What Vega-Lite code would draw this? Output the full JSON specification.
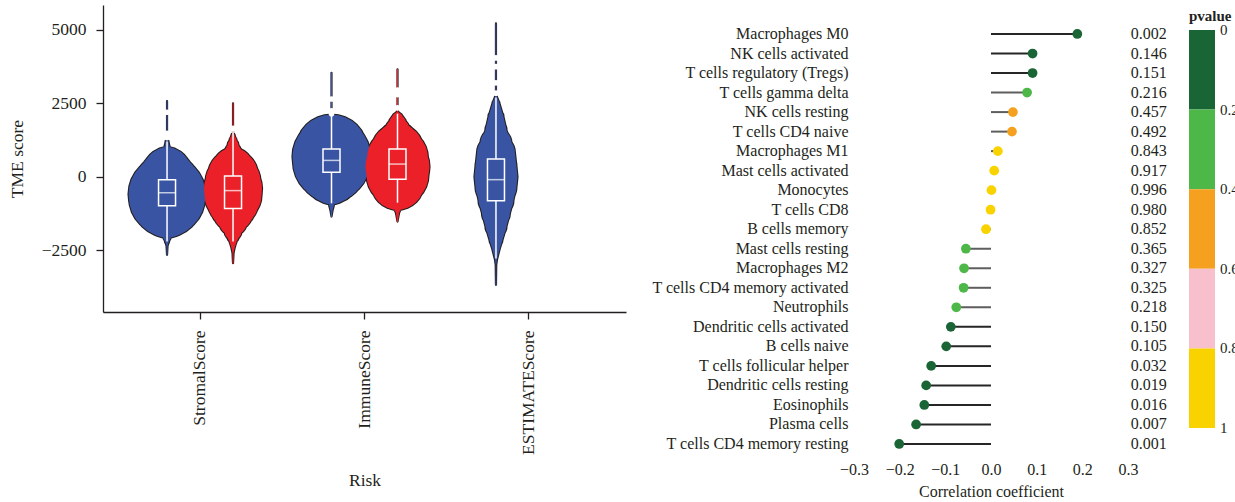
{
  "$schema": "https://vega.github.io/schema/vega-lite/v6.json",
  "background": "white",
  "padding": {"left": 8, "top": 5, "right": 0, "bottom": 0},
  "spacing": 25,
  "config": {
    "font": "Liberation Serif",
    "view": {"stroke": null},
    "axis": {"labelFont": "Liberation Serif", "titleFont": "Liberation Serif", "labelColor": "#231f20", "titleColor": "#231f20", "titleFontWeight": "normal", "grid": false, "labelLimit": 400},
    "legend": {"labelFont": "Liberation Serif", "titleFont": "Liberation Serif"}
  },
  "resolve": {"scale": {"color": "independent", "fill": "independent", "stroke": "independent", "size": "independent"}, "legend": {"fill": "independent"}},
  "datasets": {
    "violins": [
      {"score": "StromalScore", "risk": "Low", "value": 2580, "density": 0},
      {"score": "StromalScore", "risk": "Low", "value": 1300, "density": 0},
      {"score": "StromalScore", "risk": "Low", "value": 1197, "density": 0.03},
      {"score": "StromalScore", "risk": "Low", "value": 1027, "density": 0.05},
      {"score": "StromalScore", "risk": "Low", "value": 802, "density": 0.10},
      {"score": "StromalScore", "risk": "Low", "value": 650, "density": 0.17},
      {"score": "StromalScore", "risk": "Low", "value": 517, "density": 0.26},
      {"score": "StromalScore", "risk": "Low", "value": 350, "density": 0.39},
      {"score": "StromalScore", "risk": "Low", "value": 177, "density": 0.48},
      {"score": "StromalScore", "risk": "Low", "value": 7, "density": 0.54},
      {"score": "StromalScore", "risk": "Low", "value": -163, "density": 0.60},
      {"score": "StromalScore", "risk": "Low", "value": -388, "density": 0.69},
      {"score": "StromalScore", "risk": "Low", "value": -592, "density": 0.77},
      {"score": "StromalScore", "risk": "Low", "value": -700, "density": 0.76},
      {"score": "StromalScore", "risk": "Low", "value": -843, "density": 0.70},
      {"score": "StromalScore", "risk": "Low", "value": -1000, "density": 0.62},
      {"score": "StromalScore", "risk": "Low", "value": -1183, "density": 0.52},
      {"score": "StromalScore", "risk": "Low", "value": -1350, "density": 0.42},
      {"score": "StromalScore", "risk": "Low", "value": -1523, "density": 0.32},
      {"score": "StromalScore", "risk": "Low", "value": -1748, "density": 0.20},
      {"score": "StromalScore", "risk": "Low", "value": -1975, "density": 0.10},
      {"score": "StromalScore", "risk": "Low", "value": -2203, "density": 0.04},
      {"score": "StromalScore", "risk": "Low", "value": -2350, "density": 0.01},
      {"score": "StromalScore", "risk": "Low", "value": -2655, "density": 0},
      {"score": "StromalScore", "risk": "High", "value": 2502, "density": 0},
      {"score": "StromalScore", "risk": "High", "value": 1500, "density": 0},
      {"score": "StromalScore", "risk": "High", "value": 1425, "density": 0.03},
      {"score": "StromalScore", "risk": "High", "value": 1250, "density": 0.07},
      {"score": "StromalScore", "risk": "High", "value": 1085, "density": 0.11},
      {"score": "StromalScore", "risk": "High", "value": 900, "density": 0.15},
      {"score": "StromalScore", "risk": "High", "value": 745, "density": 0.20},
      {"score": "StromalScore", "risk": "High", "value": 517, "density": 0.27},
      {"score": "StromalScore", "risk": "High", "value": 292, "density": 0.41},
      {"score": "StromalScore", "risk": "High", "value": 65, "density": 0.50},
      {"score": "StromalScore", "risk": "High", "value": -163, "density": 0.55},
      {"score": "StromalScore", "risk": "High", "value": -388, "density": 0.58},
      {"score": "StromalScore", "risk": "High", "value": -615, "density": 0.57},
      {"score": "StromalScore", "risk": "High", "value": -843, "density": 0.51},
      {"score": "StromalScore", "risk": "High", "value": -1000, "density": 0.46},
      {"score": "StromalScore", "risk": "High", "value": -1183, "density": 0.40},
      {"score": "StromalScore", "risk": "High", "value": -1523, "density": 0.28},
      {"score": "StromalScore", "risk": "High", "value": -1863, "density": 0.17},
      {"score": "StromalScore", "risk": "High", "value": -2050, "density": 0.11},
      {"score": "StromalScore", "risk": "High", "value": -2203, "density": 0.07},
      {"score": "StromalScore", "risk": "High", "value": -2428, "density": 0.03},
      {"score": "StromalScore", "risk": "High", "value": -2600, "density": 0.01},
      {"score": "StromalScore", "risk": "High", "value": -2938, "density": 0},
      {"score": "ImmuneScore", "risk": "Low", "value": 3543, "density": 0},
      {"score": "ImmuneScore", "risk": "Low", "value": 2250, "density": 0},
      {"score": "ImmuneScore", "risk": "Low", "value": 2100, "density": 0.02},
      {"score": "ImmuneScore", "risk": "Low", "value": 1950, "density": 0.05},
      {"score": "ImmuneScore", "risk": "Low", "value": 1822, "density": 0.09},
      {"score": "ImmuneScore", "risk": "Low", "value": 1595, "density": 0.20},
      {"score": "ImmuneScore", "risk": "Low", "value": 1367, "density": 0.36},
      {"score": "ImmuneScore", "risk": "Low", "value": 1142, "density": 0.56},
      {"score": "ImmuneScore", "risk": "Low", "value": 915, "density": 0.71},
      {"score": "ImmuneScore", "risk": "Low", "value": 687, "density": 0.78},
      {"score": "ImmuneScore", "risk": "Low", "value": 517, "density": 0.77},
      {"score": "ImmuneScore", "risk": "Low", "value": 292, "density": 0.68},
      {"score": "ImmuneScore", "risk": "Low", "value": 65, "density": 0.57},
      {"score": "ImmuneScore", "risk": "Low", "value": -218, "density": 0.42},
      {"score": "ImmuneScore", "risk": "Low", "value": -503, "density": 0.25},
      {"score": "ImmuneScore", "risk": "Low", "value": -730, "density": 0.12},
      {"score": "ImmuneScore", "risk": "Low", "value": -950, "density": 0.05},
      {"score": "ImmuneScore", "risk": "Low", "value": -1150, "density": 0.02},
      {"score": "ImmuneScore", "risk": "Low", "value": -1353, "density": 0},
      {"score": "ImmuneScore", "risk": "High", "value": 3658, "density": 0},
      {"score": "ImmuneScore", "risk": "High", "value": 2250, "density": 0},
      {"score": "ImmuneScore", "risk": "High", "value": 2200, "density": 0.02},
      {"score": "ImmuneScore", "risk": "High", "value": 2100, "density": 0.06},
      {"score": "ImmuneScore", "risk": "High", "value": 2000, "density": 0.11},
      {"score": "ImmuneScore", "risk": "High", "value": 1822, "density": 0.17},
      {"score": "ImmuneScore", "risk": "High", "value": 1595, "density": 0.24},
      {"score": "ImmuneScore", "risk": "High", "value": 1367, "density": 0.30},
      {"score": "ImmuneScore", "risk": "High", "value": 1142, "density": 0.42},
      {"score": "ImmuneScore", "risk": "High", "value": 915, "density": 0.52},
      {"score": "ImmuneScore", "risk": "High", "value": 632, "density": 0.61},
      {"score": "ImmuneScore", "risk": "High", "value": 347, "density": 0.64},
      {"score": "ImmuneScore", "risk": "High", "value": 65, "density": 0.62},
      {"score": "ImmuneScore", "risk": "High", "value": -218, "density": 0.53},
      {"score": "ImmuneScore", "risk": "High", "value": -503, "density": 0.37},
      {"score": "ImmuneScore", "risk": "High", "value": -785, "density": 0.18},
      {"score": "ImmuneScore", "risk": "High", "value": -1013, "density": 0.09},
      {"score": "ImmuneScore", "risk": "High", "value": -1238, "density": 0.03},
      {"score": "ImmuneScore", "risk": "High", "value": -1523, "density": 0},
      {"score": "ESTIMATEScore", "risk": "Low", "value": 5222, "density": 0},
      {"score": "ESTIMATEScore", "risk": "Low", "value": 2800, "density": 0},
      {"score": "ESTIMATEScore", "risk": "Low", "value": 2727, "density": 0.02},
      {"score": "ESTIMATEScore", "risk": "Low", "value": 2502, "density": 0.07},
      {"score": "ESTIMATEScore", "risk": "Low", "value": 2047, "density": 0.15},
      {"score": "ESTIMATEScore", "risk": "Low", "value": 1595, "density": 0.21},
      {"score": "ESTIMATEScore", "risk": "Low", "value": 1142, "density": 0.31},
      {"score": "ESTIMATEScore", "risk": "Low", "value": 802, "density": 0.38},
      {"score": "ESTIMATEScore", "risk": "Low", "value": 347, "density": 0.41},
      {"score": "ESTIMATEScore", "risk": "Low", "value": 7, "density": 0.43},
      {"score": "ESTIMATEScore", "risk": "Low", "value": -333, "density": 0.41},
      {"score": "ESTIMATEScore", "risk": "Low", "value": -785, "density": 0.35},
      {"score": "ESTIMATEScore", "risk": "Low", "value": -1238, "density": 0.28},
      {"score": "ESTIMATEScore", "risk": "Low", "value": -1693, "density": 0.21},
      {"score": "ESTIMATEScore", "risk": "Low", "value": -2145, "density": 0.13},
      {"score": "ESTIMATEScore", "risk": "Low", "value": -2485, "density": 0.07},
      {"score": "ESTIMATEScore", "risk": "Low", "value": -2825, "density": 0.02},
      {"score": "ESTIMATEScore", "risk": "Low", "value": -3000, "density": 0.005},
      {"score": "ESTIMATEScore", "risk": "Low", "value": -3675, "density": 0}
    ],
    "boxes": [
      {"score": "StromalScore", "risk": "Low", "lower": -2200, "q1": -986, "median": -540, "q3": -102, "upper": 1200},
      {"score": "StromalScore", "risk": "High", "lower": -2200, "q1": -1075, "median": -468, "q3": 31, "upper": 1600},
      {"score": "ImmuneScore", "risk": "Low", "lower": -900, "q1": 160, "median": 560, "q3": 949, "upper": 2100},
      {"score": "ImmuneScore", "risk": "High", "lower": -880, "q1": -78, "median": 435, "q3": 945, "upper": 2150},
      {"score": "ESTIMATEScore", "risk": "Low", "lower": -2780, "q1": -815, "median": -95, "q3": 609, "upper": 2700}
    ],
    "outliers": [
      {"score": "StromalScore", "risk": "Low", "value": 2200},
      {"score": "StromalScore", "risk": "Low", "value": 1480},
      {"score": "StromalScore", "risk": "Low", "value": 1340},
      {"score": "StromalScore", "risk": "High", "value": 1650},
      {"score": "ImmuneScore", "risk": "Low", "value": 2650},
      {"score": "ImmuneScore", "risk": "Low", "value": 2250},
      {"score": "ImmuneScore", "risk": "Low", "value": 2150},
      {"score": "ImmuneScore", "risk": "High", "value": 2950},
      {"score": "ImmuneScore", "risk": "High", "value": 2800},
      {"score": "ImmuneScore", "risk": "High", "value": 2350},
      {"score": "ESTIMATEScore", "risk": "Low", "value": 4050},
      {"score": "ESTIMATEScore", "risk": "Low", "value": 3750},
      {"score": "ESTIMATEScore", "risk": "Low", "value": 3200},
      {"score": "ESTIMATEScore", "risk": "Low", "value": 2850}
    ],
    "immune": [
      {"cell": "Macrophages M0", "cor": 0.189, "pvalue": 0.002},
      {"cell": "NK cells activated", "cor": 0.091, "pvalue": 0.146},
      {"cell": "T cells regulatory (Tregs)", "cor": 0.091, "pvalue": 0.151},
      {"cell": "T cells gamma delta", "cor": 0.079, "pvalue": 0.216},
      {"cell": "NK cells resting", "cor": 0.048, "pvalue": 0.457},
      {"cell": "T cells CD4 naive", "cor": 0.046, "pvalue": 0.492},
      {"cell": "Macrophages M1", "cor": 0.015, "pvalue": 0.843},
      {"cell": "Mast cells activated", "cor": 0.007, "pvalue": 0.917},
      {"cell": "Monocytes", "cor": 0.001, "pvalue": 0.996},
      {"cell": "T cells CD8", "cor": -0.001, "pvalue": 0.980},
      {"cell": "B cells memory", "cor": -0.011, "pvalue": 0.852},
      {"cell": "Mast cells resting", "cor": -0.055, "pvalue": 0.365},
      {"cell": "Macrophages M2", "cor": -0.059, "pvalue": 0.327},
      {"cell": "T cells CD4 memory activated", "cor": -0.060, "pvalue": 0.325},
      {"cell": "Neutrophils", "cor": -0.076, "pvalue": 0.218},
      {"cell": "Dendritic cells activated", "cor": -0.088, "pvalue": 0.150},
      {"cell": "B cells naive", "cor": -0.098, "pvalue": 0.105},
      {"cell": "T cells follicular helper", "cor": -0.131, "pvalue": 0.032},
      {"cell": "Dendritic cells resting", "cor": -0.142, "pvalue": 0.019},
      {"cell": "Eosinophils", "cor": -0.146, "pvalue": 0.016},
      {"cell": "Plasma cells", "cor": -0.164, "pvalue": 0.007},
      {"cell": "T cells CD4 memory resting", "cor": -0.201, "pvalue": 0.001}
    ]
  },
  "hconcat": [
    {
      "width": 523,
      "height": 307,
      "resolve": {"scale": {"size": "independent"}},
      "layer": [
        {
          "data": {"name": "violins"},
          "mark": {"type": "trail", "color": "#231f20"},
          "encoding": {
            "x": {"field": "score", "type": "nominal", "sort": ["StromalScore", "ImmuneScore", "ESTIMATEScore"], "title": "Risk",
                  "scale": {"paddingInner": 0, "paddingOuter": 0.09, "round": false},
                  "axis": {"labelAngle": -90, "labelFontSize": 17.5, "titleFontSize": 17.5, "tickSize": 7, "tickColor": "#231f20", "tickWidth": 1.3, "domainColor": "#231f20", "domainWidth": 1.3, "labelPadding": 11, "titlePadding": 17}},
            "xOffset": {"field": "risk", "type": "nominal", "scale": {"domain": ["Low", "High"], "paddingInner": 0, "paddingOuter": 0.246}},
            "y": {"field": "value", "type": "quantitative", "title": "TME score",
                  "scale": {"domain": [-4600, 5850], "nice": false, "zero": false},
                  "axis": {"values": [-2500, 0, 2500, 5000], "format": "d", "labelFontSize": 17.5, "titleFontSize": 17.5, "tickSize": 7, "tickColor": "#231f20", "tickWidth": 1.3, "domainColor": "#231f20", "domainWidth": 1.3, "labelPadding": 10, "titlePadding": 15}},
            "size": {"field": "density", "type": "quantitative", "scale": {"domain": [0, 1], "range": [2.2, 102.2]}, "legend": null},
            "order": {"field": "value", "type": "quantitative"},
            "detail": [{"field": "score", "type": "nominal"}, {"field": "risk", "type": "nominal"}]
          }
        },
        {
          "data": {"name": "violins"},
          "mark": {"type": "trail"},
          "encoding": {
            "x": {"field": "score", "type": "nominal", "sort": ["StromalScore", "ImmuneScore", "ESTIMATEScore"]},
            "xOffset": {"field": "risk", "type": "nominal"},
            "y": {"field": "value", "type": "quantitative"},
            "size": {"field": "density", "type": "quantitative", "scale": {"domain": [0, 1], "range": [0, 100]}, "legend": null},
            "color": {"field": "risk", "type": "nominal", "scale": {"domain": ["Low", "High"], "range": ["#3a54a4", "#ec2028"]}, "legend": null},
            "order": {"field": "value", "type": "quantitative"},
            "detail": [{"field": "score", "type": "nominal"}, {"field": "risk", "type": "nominal"}]
          }
        },
        {
          "data": {"name": "boxes"},
          "mark": {"type": "rule", "color": "white", "strokeWidth": 1.5},
          "encoding": {
            "x": {"field": "score", "type": "nominal", "sort": ["StromalScore", "ImmuneScore", "ESTIMATEScore"]},
            "xOffset": {"field": "risk", "type": "nominal"},
            "y": {"field": "lower", "type": "quantitative"},
            "y2": {"field": "upper"}
          }
        },
        {
          "data": {"name": "boxes"},
          "mark": {"type": "bar", "width": 17, "stroke": "white", "strokeWidth": 1.5},
          "encoding": {
            "x": {"field": "score", "type": "nominal", "sort": ["StromalScore", "ImmuneScore", "ESTIMATEScore"]},
            "xOffset": {"field": "risk", "type": "nominal"},
            "y": {"field": "q1", "type": "quantitative"},
            "y2": {"field": "q3"},
            "color": {"field": "risk", "type": "nominal", "legend": null}
          }
        },
        {
          "data": {"name": "boxes"},
          "mark": {"type": "tick", "color": "white", "size": 17, "thickness": 1.5, "orient": "horizontal"},
          "encoding": {
            "x": {"field": "score", "type": "nominal", "sort": ["StromalScore", "ImmuneScore", "ESTIMATEScore"]},
            "xOffset": {"field": "risk", "type": "nominal"},
            "y": {"field": "median", "type": "quantitative"}
          }
        },
        {
          "data": {"name": "outliers"},
          "mark": {"type": "circle", "color": "white", "size": 32, "opacity": 1},
          "encoding": {
            "x": {"field": "score", "type": "nominal", "sort": ["StromalScore", "ImmuneScore", "ESTIMATEScore"]},
            "xOffset": {"field": "risk", "type": "nominal"},
            "y": {"field": "value", "type": "quantitative"}
          }
        }
      ]
    },
    {
      "width": 274,
      "height": 452,
      "data": {"name": "immune"},
      "encoding": {
        "y": {"field": "cell", "type": "nominal", "sort": null, "title": null,
              "scale": {"paddingInner": 0, "paddingOuter": 0.576, "align": 0.855, "round": false},
              "axis": {"domain": false, "ticks": false, "labelPadding": 6, "labelFontSize": 16}}
      },
      "layer": [
        {
          "mark": {"type": "rule", "strokeWidth": 2},
          "encoding": {
            "x": {"field": "cor", "type": "quantitative", "title": "Correlation coefficient",
                  "scale": {"domain": [-0.3, 0.3], "nice": false, "zero": false},
                  "axis": {"values": [-0.3, -0.2, -0.1, 0, 0.1, 0.2, 0.3], "format": ".1f", "domain": false, "ticks": false, "labelPadding": 4, "labelFlush": false, "labelOverlap": false, "labelFontSize": 16, "titleFontSize": 16, "titlePadding": 6}},
            "x2": {"datum": 0},
            "stroke": {"field": "pvalue", "type": "quantitative", "scale": {"type": "threshold", "domain": [0.2], "range": ["#262626", "#5e5e5e"]}, "legend": null}
          }
        },
        {
          "mark": {"type": "circle", "size": 95, "opacity": 1},
          "encoding": {
            "x": {"field": "cor", "type": "quantitative"},
            "fill": {"field": "pvalue", "type": "quantitative",
                     "scale": {"type": "quantize", "domain": [0, 1], "range": ["#1a6535", "#4db848", "#f5a11f", "#f8bfcc", "#f9d300"]},
                     "legend": {"type": "gradient", "orient": "none", "legendX": 335, "legendY": 4, "padding": 0, "direction": "vertical", "values": [0, 0.2, 0.4, 0.6, 0.8, 1], "labelExpr": "format(datum.value, '.1~f')", "labelOverlap": false, "gradientLength": 398, "gradientThickness": 26, "gradientStrokeWidth": 0, "title": "pvalue", "titleFontWeight": "bold", "titleFontSize": 15, "titleColor": "#231f20", "titlePadding": 6, "labelFontSize": 15, "labelColor": "#231f20", "labelOffset": 5,
                                "encoding": {
                                  "gradient": {"y": {"value": {"expr": "datum.perc * 398"}}, "y2": {"value": {"expr": "datum.perc2 * 398"}}},
                                  "labels": {"y": {"value": {"expr": "datum.perc * 398"}}, "baseline": {"value": "middle"}, "opacity": {"value": 1}}
                                }}}
          }
        },
        {
          "mark": {"type": "text", "align": "right", "baseline": "middle", "fontSize": 16, "color": "#231f20"},
          "encoding": {
            "x": {"datum": 0.385},
            "text": {"field": "pvalue", "type": "quantitative", "format": ".3f"}
          }
        }
      ]
    }
  ]
}
